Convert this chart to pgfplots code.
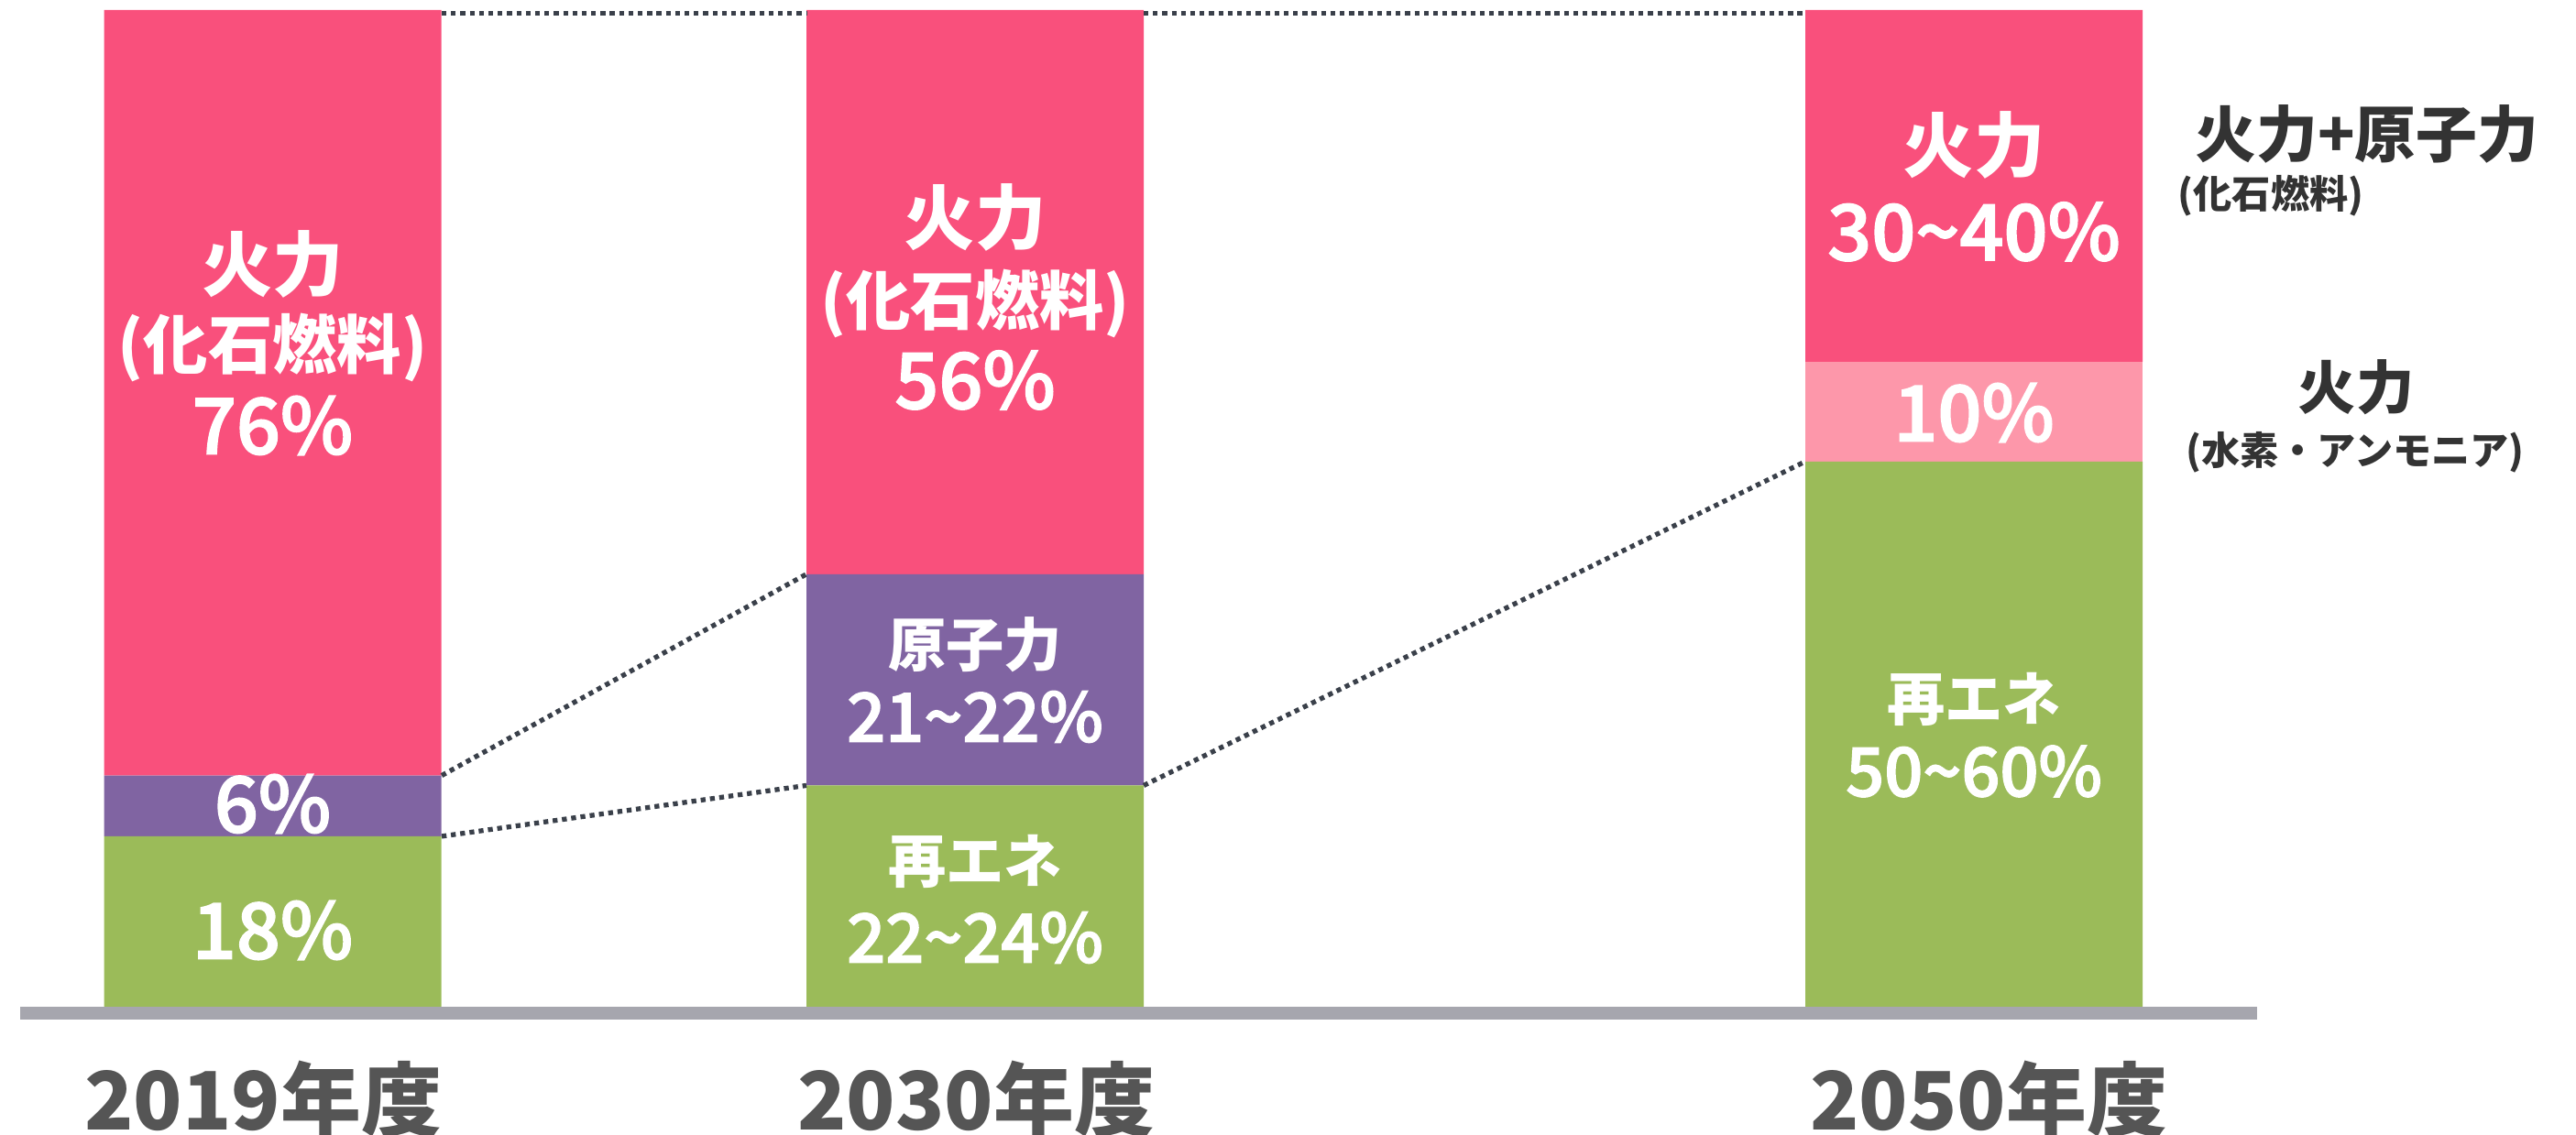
\documentclass[border=0pt]{standalone}
\usepackage{pgfplots}
\pgfplotsset{compat=1.18}
\usepackage{fontspec}
\setmainfont{Noto Sans CJK JP}
\newfontfamily\med[FakeBold=2]{Noto Sans CJK JP Medium}
\definecolor{fossil}{HTML}{F9507C}
\definecolor{nuclear}{HTML}{8064A2}
\definecolor{renew}{HTML}{9BBB59}
\definecolor{hydro}{HTML}{FD97AA}
\definecolor{axisgray}{HTML}{A6A6AE}
\definecolor{dotline}{HTML}{3A404A}
\definecolor{yeartext}{HTML}{555555}
\definecolor{legtext}{HTML}{333333}
\newcommand{\fs}[1]{\fontsize{#1}{#1}\selectfont}
\pgfplotsset{base/.style={
  scale only axis, width=28.11cm, height=12.39cm,
  xmin=0, xmax=28.11, ymin=-12.87, ymax=101.01,
  hide axis, clip=false}}
\tikzset{conn/.style={dotline, line width=1.5pt, dash pattern=on 1.5pt off 1.4pt}}
\begin{document}
\begin{tikzpicture}
\begin{axis}[base, ybar stacked, bar width=3.68]
\addplot[fill=renew, draw=none] coordinates {(2.975,17.1) (10.64,22.2) (21.54,54.7)};
\addplot[fill=nuclear, draw=none] coordinates {(2.975,6.1) (10.64,21.2) (21.54,0)};
\addplot[fill=hydro, draw=none] coordinates {(2.975,0) (10.64,0) (21.54,10)};
\addplot[fill=fossil, draw=none] coordinates {(2.975,76.8) (10.64,56.6) (21.54,35.3)};
\end{axis}
\begin{axis}[base]
% connectors
\addplot[conn, no markers] coordinates {(4.82,99.7) (8.80,99.7)};
\addplot[conn, no markers] coordinates {(12.48,99.7) (19.70,99.7)};
\addplot[conn, no markers] coordinates {(4.82,23.2) (8.80,43.4)};
\addplot[conn, no markers] coordinates {(4.82,17.1) (8.80,22.2)};
\addplot[conn, no markers] coordinates {(12.48,22.2) (19.70,54.7)};
% baseline
\addplot[axisgray, no markers, line width=0.14cm] coordinates {(0.22,-0.64) (24.63,-0.64)};
% bar labels
\begin{scope}[every node/.style={white, inner sep=0pt}]
\node[font=\bfseries\fs{22}] at (axis cs:2.975,74.49) {火力};
\node[font=\bfseries\fs{20}] at (axis cs:2.975,66.13) {(化石燃料)};
\node[font=\med\fs{24}] at (axis cs:2.975,58.32) {76\%};
\node[font=\med\fs{24}] at (axis cs:2.975,20.36) {6\%};
\node[font=\med\fs{24}] at (axis cs:2.975,7.67) {18\%};
\node[font=\bfseries\fs{22}] at (axis cs:10.64,79.18) {火力};
\node[font=\bfseries\fs{20}] at (axis cs:10.64,70.50) {(化石燃料)};
\node[font=\med\fs{24}] at (axis cs:10.64,62.87) {56\%};
\node[font=\bfseries\fs{18}] at (axis cs:10.64,36.35) {原子力};
\node[font=\med\fs{21}] at (axis cs:10.64,29.09) {21\string~22\%};
\node[font=\bfseries\fs{18}] at (axis cs:10.64,14.57) {再エネ};
\node[font=\med\fs{21}] at (axis cs:10.64,6.94) {22\string~24\%};
\node[font=\bfseries\fs{22}] at (axis cs:21.54,86.49) {火力};
\node[font=\med\fs{24}] at (axis cs:21.54,77.76) {30\string~40\%};
\node[font=\med\fs{24}] at (axis cs:21.54,59.60) {10\%};
\node[font=\bfseries\fs{18}] at (axis cs:21.54,30.88) {再エネ};
\node[font=\med\fs{21}] at (axis cs:21.54,23.62) {50\string~60\%};
\end{scope}
% right legend
\begin{scope}[every node/.style={legtext, inner sep=0pt}]
\node[font=\bfseries\fs{19}] at (axis cs:25.83,87.55) {火力+原子力};
\node[font=\bfseries\fs{12}] at (axis cs:24.78,81.39) {(化石燃料)};
\node[font=\bfseries\fs{18}] at (axis cs:25.71,62.13) {火力};
\node[font=\bfseries\fs{12}] at (axis cs:25.70,55.58) {(水素・アンモニア)};
\end{scope}
% years
\begin{scope}[every node/.style={yeartext, inner sep=0pt, anchor=base, font=\bfseries\fs{25}}]
\node at (axis cs:2.87,-12.32) {2019年度};
\node at (axis cs:10.65,-12.32) {2030年度};
\node at (axis cs:21.70,-12.32) {2050年度};
\end{scope}
\end{axis}
\pgfresetboundingbox
\path (0,0) rectangle (28.11cm,12.39cm);
\end{tikzpicture}
\end{document}
